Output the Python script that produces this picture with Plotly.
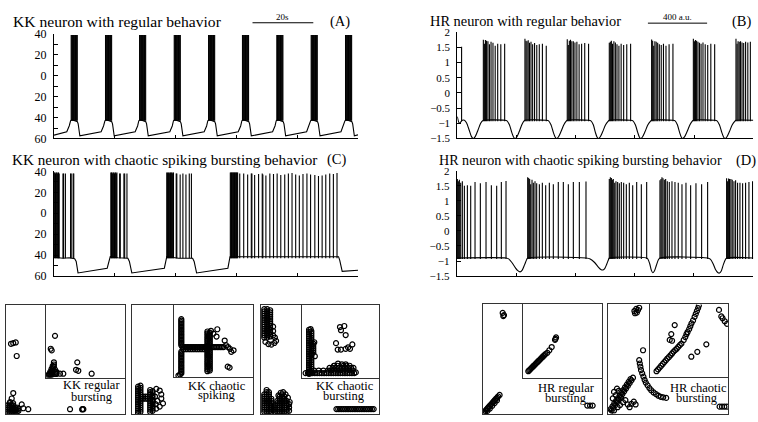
import plotly.graph_objects as go

FONT = "Liberation Serif"
W, H = 758, 422

# ===================== (A) KK neuron, regular bursting =====================
kk_reg_base_t = [0, 4.2, 5.0, 5.45, 5.9, 6.8, 7.7, 7.95, 8.5,
                 15.5, 16.3, 16.75, 17.2, 18.1, 19.0, 19.25, 19.8,
                 26.7, 27.5, 27.9, 28.4, 29.3, 30.2, 30.45, 31.0,
                 38.1, 38.9, 39.3, 39.8, 40.7, 41.6, 41.85, 42.4,
                 49.4, 50.2, 50.6, 51.1, 52.0, 52.9, 53.15, 53.7,
                 60.6, 61.4, 61.8, 62.3, 63.2, 64.1, 64.35, 64.9,
                 71.9, 72.7, 73.1, 73.6, 74.5, 75.4, 75.65, 76.2,
                 83.1, 83.9, 84.4, 84.9, 85.8, 86.7, 86.95, 87.5,
                 94.4, 95.2, 95.7, 96.2, 97.1, 98.0, 98.25, 98.8, 100]
kk_reg_base_v = [-56.8, -53.5, -48, -43, -42, -43, -44, -46, -57.5,
                 -53.5, -48, -43, -42, -43, -44, -46, -57.5,
                 -53.5, -48, -43, -42, -43, -44, -46, -57.5,
                 -53.5, -48, -43, -42, -43, -44, -46, -57.5,
                 -53.5, -48, -43, -42, -43, -44, -46, -57.5,
                 -53.5, -48, -43, -42, -43, -44, -46, -57.5,
                 -53.5, -48, -43, -42, -43, -44, -46, -57.5,
                 -53.5, -48, -43, -42, -43, -44, -46, -57.5,
                 -53.5, -48, -43, -42, -43, -44, -46, -57.5, -56.5]
kk_reg_spike_t = [
    [5.65, 5.85, 6.05, 6.25, 6.45, 6.65, 6.85, 7.05, 7.25, 7.45, 7.65],
    [16.95, 17.15, 17.35, 17.55, 17.75, 17.95, 18.15, 18.35, 18.55, 18.75, 18.95],
    [28.15, 28.35, 28.55, 28.75, 28.95, 29.15, 29.35, 29.55, 29.75, 29.95, 30.15],
    [39.55, 39.75, 39.95, 40.15, 40.35, 40.55, 40.75, 40.95, 41.15, 41.35, 41.55],
    [50.85, 51.05, 51.25, 51.45, 51.65, 51.85, 52.05, 52.25, 52.45, 52.65, 52.85],
    [62.0, 62.2, 62.4, 62.6, 62.8, 63.0, 63.2, 63.4, 63.6, 63.8, 64.0],
    [73.3, 73.5, 73.7, 73.9, 74.1, 74.3, 74.5, 74.7, 74.9, 75.1, 75.3],
    [84.6, 84.8, 85.0, 85.2, 85.4, 85.6, 85.8, 86.0, 86.2, 86.4, 86.6],
    [95.9, 96.1, 96.3, 96.5, 96.7, 96.9, 97.1, 97.3, 97.5, 97.7, 97.9],
]
kk_reg_spike_peak = 39
kk_spike_floor = -43

# ===================== (C) KK neuron, chaotic spiking bursting =====================
kk_chaos_base_t = [0, 1.0, 3.0, 5.0, 6.8, 7.3, 7.9,
                   17.5, 18.0, 18.5, 21.0, 24.3, 24.8, 25.6,
                   36.3, 36.7, 37.1, 41.0, 45.6, 46.1, 46.9,
                   57.2, 57.5, 57.9, 70.0, 85.0, 93.6, 94.0, 94.8, 100]
kk_chaos_base_v = [-42, -42.5, -43, -42.5, -43.5, -46, -57,
                   -52.5, -47, -41.5, -42.5, -43, -46, -57,
                   -52.5, -47, -41.5, -43, -43, -46, -57,
                   -52.5, -47, -41.5, -41.5, -41.5, -41.5, -45, -55.5, -54.5]
kk_chaos_spike_t = [
    [0.1, 0.3, 0.5, 0.7, 0.9, 1.1, 1.3, 1.5, 1.7, 2.95, 3.15, 3.75, 5.45, 5.65, 6.3, 6.5],
    [18.7, 18.9, 19.1, 19.3, 19.5, 19.7, 19.9, 20.1, 20.3, 20.5, 20.7, 21.6, 21.8, 23.0, 23.25, 24.0],
    [37.1, 37.3, 37.5, 37.7, 37.9, 38.1, 38.3, 38.5, 38.7, 38.9, 39.1, 39.3, 40.2, 40.4, 41.5, 42.4,
     43.4, 44.5, 45.2],
    [58.0, 58.2, 58.4, 58.6, 58.8, 59.0, 59.2, 59.4, 59.6, 59.8, 60.0, 60.2, 60.4,
     61.1, 62.4, 63.7, 64.9, 65.1, 66.0, 67.3, 68.5, 68.7, 69.7, 71.0, 72.2, 73.4, 74.6, 75.9,
     77.1, 78.3, 79.5, 80.7, 81.9, 83.2, 84.4, 85.8, 87.0, 88.2, 89.4, 90.7, 91.9, 93.1],
]
kk_chaos_spike_peak = [
    [39, 39, 38, 39, 39, 38, 39, 39, 38, 38, 38, 38, 38, 38, 38, 38],
    [39, 39, 39, 38, 39, 39, 38, 39, 39, 38, 39, 38, 38, 38, 38, 38],
    [39, 39, 38, 39, 39, 38, 39, 39, 39, 38, 39, 39, 38, 38, 37, 38, 37, 38, 38],
    [39, 39, 39, 39, 39, 39, 39, 39, 39, 39, 39, 39, 39,
     38, 38, 37, 38, 38, 36.5, 37.5, 38, 37, 36, 38, 37.5, 38, 36.5, 37,
     38, 38.5, 37, 36, 37.5, 38, 37, 36.5, 35.5, 36, 37, 38, 37.5, 38.5],
]

# ===================== (B) HR neuron, regular bursting =====================
hr_reg_base_t = [0, 14, 24, 34, 48, 62, 80, 95, 108, 122, 140, 158, 170, 176,
                 320, 336, 352, 368, 380, 390, 402, 418, 436, 450, 457,
                 601, 617, 633, 649, 661, 671, 683, 700, 720, 736, 743,
                 887, 903, 919, 933, 944, 953, 965, 982, 1002, 1020, 1027,
                 1171, 1187, 1203, 1219, 1230, 1239, 1251, 1268, 1288, 1306, 1313,
                 1457, 1472, 1487, 1502, 1513, 1522, 1535, 1552, 1572, 1588, 1595,
                 1739, 1755, 1771, 1787, 1799, 1809, 1821, 1838, 1858, 1876, 1883, 2000]
hr_reg_base_v = [-0.78, -1.0, -0.95, -0.9, -0.9, -0.98, -1.22, -1.43, -1.5, -1.43, -1.22, -1.0, -0.92, -0.9,
                 -0.9, -0.92, -1.05, -1.3, -1.45, -1.5, -1.45, -1.28, -1.05, -0.93, -0.9,
                 -0.9, -0.92, -1.05, -1.3, -1.45, -1.5, -1.45, -1.28, -1.05, -0.93, -0.9,
                 -0.9, -0.92, -1.05, -1.3, -1.45, -1.5, -1.45, -1.28, -1.05, -0.93, -0.9,
                 -0.9, -0.92, -1.05, -1.3, -1.45, -1.5, -1.45, -1.28, -1.05, -0.93, -0.9,
                 -0.9, -0.92, -1.05, -1.3, -1.45, -1.5, -1.45, -1.28, -1.05, -0.93, -0.9,
                 -0.9, -0.92, -1.05, -1.3, -1.45, -1.5, -1.45, -1.28, -1.05, -0.93, -0.9, -0.9]
hr_reg_spike_t = [
    [29],
    [176, 183, 190, 198, 207, 217, 228, 241, 256, 273, 294, 320],
    [457, 464, 471, 479, 488, 498, 509, 522, 537, 554, 575, 601],
    [743, 750, 757, 765, 774, 784, 795, 808, 823, 840, 861, 887],
    [1027, 1034, 1041, 1049, 1058, 1068, 1079, 1092, 1107, 1124, 1145, 1171],
    [1313, 1320, 1327, 1335, 1344, 1354, 1365, 1378, 1393, 1410, 1431, 1457],
    [1595, 1602, 1609, 1617, 1626, 1636, 1647, 1660, 1675, 1692, 1713, 1739],
    [1883, 1890, 1897, 1905, 1914, 1924, 1935, 1948, 1963, 1980],
]
hr_reg_spike_peak = [
    [1.52],
    [1.75, 1.62, 1.74, 1.72, 1.7, 1.6, 1.68, 1.65, 1.55, 1.62, 1.6, 1.62],
    [1.78, 1.72, 1.7, 1.73, 1.65, 1.68, 1.6, 1.64, 1.58, 1.6, 1.62, 1.55],
    [1.77, 1.58, 1.72, 1.75, 1.7, 1.7, 1.66, 1.68, 1.6, 1.62, 1.64, 1.62],
    [1.65, 1.68, 1.72, 1.62, 1.7, 1.66, 1.6, 1.55, 1.62, 1.58, 1.6, 1.62],
    [1.76, 1.72, 1.55, 1.7, 1.68, 1.65, 1.6, 1.58, 1.62, 1.55, 1.6, 1.62],
    [1.78, 1.7, 1.74, 1.72, 1.68, 1.65, 1.62, 1.66, 1.6, 1.58, 1.62, 1.6],
    [1.78, 1.62, 1.7, 1.68, 1.7, 1.66, 1.64, 1.68, 1.66, 1.68],
]
hr_spike_floor = -0.93

# ===================== (D) HR neuron, chaotic spiking bursting =====================
hr_chaos_base_t = [0, 333, 350, 372, 395, 412, 427, 442, 458, 472, 479,
                   872, 900, 930, 955, 972, 984, 998, 1012, 1024, 1029,
                   1281, 1290, 1302, 1312, 1322, 1333, 1346, 1360, 1370,
                   1692, 1710, 1728, 1745, 1760, 1772, 1785, 1798, 1812, 1820, 2000]
hr_chaos_base_v = [-0.9, -0.9, -0.93, -1.05, -1.22, -1.32, -1.36, -1.3, -1.12, -0.95, -0.9,
                   -0.9, -0.93, -1.05, -1.2, -1.28, -1.3, -1.25, -1.1, -0.95, -0.9,
                   -0.9, -0.94, -1.1, -1.3, -1.39, -1.33, -1.15, -0.96, -0.9,
                   -0.9, -0.94, -1.08, -1.28, -1.38, -1.4, -1.32, -1.12, -0.95, -0.9, -0.9]
hr_chaos_spike_t = [
    [4.5, 11.2, 18, 27, 38, 51.7, 72, 94.4, 123.6, 159.5, 197.7, 233.7, 269.6, 301, 332.6],
    [478.6, 485.4, 492, 498.9, 507.9, 516.8, 528, 539.3, 557.3, 577.5, 600, 624.7, 651.6, 685,
     719, 752.7, 786.5, 827, 871.8],
    [1029, 1036, 1043, 1049.6, 1056, 1065.5, 1074, 1085.3, 1096.6, 1110, 1125.8, 1143.8, 1164,
     1186.7, 1213.6, 1245, 1281],
    [1370.6, 1377.4, 1384, 1391, 1400, 1409, 1420, 1433.6, 1451.6, 1471.8, 1494, 1519, 1546,
     1577.4, 1613.3, 1651.5, 1692],
    [1820, 1826.8, 1833.6, 1840, 1849, 1858, 1869.5, 1880.7, 1894, 1910, 1928, 1948, 1970.6, 1995],
]
hr_chaos_spike_peak = [
    [1.72, 1.65, 1.7, 1.6, 1.65, 1.5, 1.52, 1.5, 1.62, 1.58, 1.62, 1.52, 1.5, 1.62, 1.66],
    [1.78, 1.76, 1.72, 1.55, 1.7, 1.6, 1.65, 1.58, 1.55, 1.6, 1.52, 1.6, 1.55, 1.62, 1.62, 1.55,
     1.62, 1.62, 1.64],
    [1.72, 1.78, 1.76, 1.7, 1.72, 1.6, 1.65, 1.62, 1.58, 1.62, 1.6, 1.55, 1.6, 1.52, 1.62, 1.55, 1.62],
    [1.68, 1.72, 1.78, 1.75, 1.7, 1.72, 1.65, 1.62, 1.65, 1.62, 1.6, 1.55, 1.6, 1.52, 1.58, 1.55, 1.62],
    [1.75, 1.65, 1.74, 1.72, 1.72, 1.7, 1.65, 1.68, 1.6, 1.6, 1.58, 1.6, 1.62, 1.65],
]

# tick labels / scale bars
kk_ytick_vals = [40, 30, 20, 10, 0, -10, -20, -30, -40, -50, -60]
kk_ytick_text = ["40", "", "20", "", "0", "", "20", "", "40", "", "60"]
kk_xtick_vals = [20, 40, 60, 80, 100]
hr_ytick_vals = [2, 1.5, 1, 0.5, 0, -0.5, -1, -1.5]
hr_xtick_vals = [400, 800, 1200, 1600, 2000]
kk_scalebar = [65.3, 85.3]
hr_scalebar = [1288, 1688]

# ===================== return-map panels (relative units 0-100) =====================
# isolated circles (x, y lists), dense clusters as columns (x, [ys]) and rows (y, [xs])
p1_main_x = [4.2, 6.1, 8.2, 9.0, 6.1, 4.8, 13.2, 14.5, 18.7, 53.8, 64.0, 64.4, 65.0, 3.5]
p1_main_y = [64.3, 64.9, 65.5, 53.1, 19.2, 14.2, 8.8, 5.3, 4.4, 4.4, 4.2, 4.6, 4.4, 11.0]
p1_main_cols = [(1.5, [2, 4, 6, 8]), (3, [2, 4, 6, 8, 10]), (4.5, [2, 4, 6, 8]), (6, [2, 4, 6, 8, 10]),
                (7.5, [2, 4, 6]), (9, [2, 4, 6]), (10.5, [3, 5])]
p1_main_rows = []
p1_in_x = [11.4, 6.0, 7.2, 39.6, 38.0, 40.9, 57.8, 17.7, 21.9, 13.5]
p1_in_y = [57.3, 39.6, 37.3, 20.9, 10.7, 9.3, 5.3, 5.3, 5.3, 6.3]
p1_in_cols = [(10, [21, 18, 15]), (8.5, [16, 13, 10, 7]), (7, [12, 9, 6, 3.5]), (5.5, [8, 5, 3]),
              (4, [5, 3]), (2.5, [3]), (11.5, [11, 8, 5]), (13, [5, 8])]
p1_in_rows = []

p2_main_x = [20.1, 22.9, 24.2, 24.2, 25.6, 22.9, 21, 20, 19, 19.5]
p2_main_y = [23, 21.5, 18, 14.2, 9.7, 6.8, 12, 5, 16, 9]
p2_main_cols = [(5, [1, 3, 5, 7, 9, 11, 13, 15, 17, 19, 21, 23, 25]),
                (7, [2, 4, 6, 8, 10, 12, 14, 16, 18, 20, 22, 24, 26]),
                (9, [14, 16]), (11, [14, 16]), (13, [14, 16]),
                (15, [2, 4, 6, 8, 10, 12, 14, 16, 18, 20, 22]),
                (17, [3, 5, 7, 9, 11, 13, 15, 17, 19, 21])]
p2_main_rows = []
p2_in_x = [64.3, 66, 68.5, 71, 72.6, 75.5, 47, 50, 54, 55, 68.1, 70.5, 8, 6]
p2_in_y = [50.5, 44, 41.5, 39, 34.8, 37, 64, 60, 56, 66.1, 14.3, 13, 3.5, 2]
p2_in_cols = [(9.6, [80, 78, 76, 74, 72, 70, 68, 66, 64, 62, 60, 58, 56, 54, 52, 50, 48, 46, 44]),
              (9.6, [35, 33, 31, 29, 27, 25, 23, 21, 19, 17, 15, 13, 11, 9, 7, 5]),
              (42.5, [8, 10.5, 13, 15.5, 18, 20.5, 23, 25.5, 28, 30.5, 33, 35.5, 38, 40.5, 43, 45.5,
                      48, 50.5, 53, 55.5, 58, 60.5, 63]),
              (45.5, [9, 11.5, 14, 16.5, 19, 21.5, 24, 26.5, 29, 31.5, 34, 36.5, 39, 41.5, 44, 46.5,
                      49, 51.5, 54, 56.5, 59, 61.5])]
p2_in_rows = [(41.5, [11, 13, 15, 17, 19, 21, 23, 25, 27, 29, 31, 33, 35, 37, 39, 41, 49, 51, 53, 55,
                      57, 59, 61, 63]),
              (38.5, [12, 15, 18, 21, 24, 27, 30, 33, 36, 39])]

p3_main_x = [4, 6.5, 9, 11.5, 13, 12, 15, 17, 19, 21, 23, 24.5]
p3_main_y = [66, 64, 63.5, 65, 67, 70, 17, 19.5, 20, 18, 15, 11]
p3_main_cols = [(3, [70, 72, 74, 76, 78, 80, 82, 84, 86, 88, 90, 92, 94, 96]),
                (5.5, [70, 72, 74, 76, 78, 80, 82, 84, 86, 88, 90, 92, 94, 96]),
                (8, [71, 73, 75, 77, 79, 81, 83, 85, 87, 89, 91, 93, 95]),
                (10.5, [72, 76, 80]),
                (3, [2, 4, 6, 8, 10, 12, 14, 16, 18]),
                (5, [2, 4, 6, 8, 10, 12, 14, 16, 18, 20, 22]),
                (7, [2, 4, 6, 8, 10, 12, 14, 16, 18, 20]),
                (9, [2, 4, 6, 8, 10, 12, 14]),
                (12, [2, 4, 6, 8]),
                (14, [2, 4, 6, 8, 10, 12]),
                (16, [2, 4, 6, 8, 10, 12, 14, 16]),
                (18, [2, 4, 6, 8, 10, 12, 14, 16, 18]),
                (20, [2, 4, 6, 8, 10, 12, 14, 16]),
                (22, [2, 4, 6, 8, 10, 12]),
                (24, [3, 6, 9])]
p3_main_rows = [(4.5, [64, 65.5, 67, 68.5, 70, 71.5, 73, 74.5, 76, 77.5, 79, 80.5, 82, 83.5, 85, 86.5,
                       88, 89.5, 91, 92.5, 94, 95.5])]
p3_in_x = [11.5, 16.3, 17, 49.5, 55.1, 50.8, 56.9, 44.4, 46.6, 50.8, 56.9, 62.5, 65.5, 60, 42, 52, 57, 47, 70]
p3_in_y = [67, 49, 30, 69.7, 71.1, 65.4, 58.8, 47.8, 39, 39, 40, 40, 46, 42, 17, 19, 19, 20, 8]
p3_in_cols = [(9.5, [6, 9, 12, 15, 18, 21, 24, 27, 30, 33, 36, 39, 42, 45, 48, 51, 54, 57, 60, 63, 66]),
              (12.5, [7, 10, 13, 16, 19, 22, 25, 28, 31, 34, 37, 40, 43, 46, 49, 52, 55, 58, 61, 64]),
              (15, [35, 38, 41, 44, 47])]
p3_in_rows = [(7, [5, 8, 11, 14, 17, 20, 23, 26, 29, 32, 35, 38, 41, 44, 47, 50, 53, 56, 59, 62, 65, 68]),
              (10.5, [16, 22, 28, 34, 38, 42, 46, 50, 54, 58, 62, 66]),
              (14, [36, 40, 44, 48, 52, 56, 60, 64, 67]),
              (17, [42, 46, 54, 58, 62])]

p4_main_x = [16.8, 17.9, 17.3,
             0.5, 1.3, 2.2, 3.1, 4.0, 4.9, 5.8, 6.7, 7.6, 8.5, 9.4, 10.3, 11.2, 12.1, 13.0, 14.2,
             2.0, 4.0, 6.0, 8.0, 10.0, 12.0,
             87.9, 90.2, 92.4]
p4_main_y = [92.3, 90.3, 89.4,
             0.8, 1.8, 2.9, 4.0, 5.1, 6.2, 7.3, 8.4, 9.5, 10.6, 11.7, 12.8, 13.9, 15.0, 16.0, 17.4,
             1.0, 3.0, 5.0, 7.5, 10.0, 12.5,
             7.7, 7.7, 7.7]
p4_main_cols = []
p4_main_rows = []
p4_in_x = [7.1, 8.3, 9.5, 10.7, 11.9, 13.1, 14.3, 15.5, 16.7, 17.9, 19.1, 20.3, 21.5, 22.7, 23.9,
           25.1, 26.3, 27.5, 28.7, 31.1, 33.7, 36.7, 40.9, 42.2, 41.5]
p4_in_y = [8.7, 10.0, 11.3, 12.6, 13.9, 15.2, 16.5, 17.8, 19.1, 20.4, 21.7, 23.0, 24.3, 25.6, 26.9,
           28.2, 29.5, 30.8, 32.1, 33.9, 37.4, 41.8, 51.6, 55.0, 53.0]
p4_in_cols = []
p4_in_rows = []

p5_main_x = [22, 23.5, 25, 24, 22.5, 26, 29.2,
             3, 4.5, 6, 7.5, 9, 10.5, 12, 13.5, 15, 16.5, 18, 19.5, 20.8, 1.5, 5, 8,
             2.2, 3.7, 5.2, 6.7, 8.2, 9.7, 11.2, 12.7, 14.2, 15.7, 17.2, 18.7,
             5, 6.5, 7.5, 9, 11, 12.5, 14.5, 16.5, 18, 19.5, 21.5, 23, 4, 10,
             26, 26.5, 27, 27.5, 28.5, 29.5, 30.5, 31.5, 33, 34.5, 36, 38, 40, 42, 44, 46, 48.5,
             93, 95, 97, 99]
p5_main_y = [94, 96, 95, 92.5, 92, 97, 58.1,
             3, 5.5, 8, 10.5, 13, 15.5, 18, 20.5, 23, 25.5, 28, 30.5, 33, 1, 3, 6,
             4.2, 6.7, 9.2, 11.7, 14.2, 16.7, 19.2, 21.7, 24.2, 26.7, 29.2, 31.7,
             20, 17, 23, 21, 14.5, 10.5, 12.5, 8.5, 6, 9, 11, 8.5, 14, 8,
             49, 46, 43, 40, 37, 34, 31, 28.5, 26, 23.5, 21.5, 19.5, 18, 16.5, 15.5, 15, 14.5,
             6.5, 6.5, 6.5, 6.5]
p5_main_cols = []
p5_main_rows = []
p5_in_x = [8, 10, 12, 14, 16, 18, 20, 22, 24, 26, 28, 30, 32, 34, 36, 38, 40,
           43, 45, 46.5, 48, 50, 51.5, 53, 55, 57, 58.5, 60, 61.5, 62.5,
           88.4, 91.4, 93, 95.8, 98.7,
           31.4, 27, 25, 28, 52.8, 60.5, 72.1]
p5_in_y = [8, 10.5, 13, 15.5, 18, 20.5, 23, 25.5, 27.5, 30, 32.5, 35, 37, 39, 41.5, 44, 46,
           51, 55, 59, 62, 66, 70, 74, 78, 83, 87, 91, 95, 98.5,
           92.5, 83.6, 81, 76.9, 73.3,
           71.6, 59.2, 51.2, 50, 28, 34.7, 45]
p5_in_cols = []
p5_in_rows = []

panel_labels = [("KK regular", "bursting"), ("KK chaotic", "spiking"), ("KK chaotic", "bursting"),
                ("HR regular", "bursting"), ("HR chaotic", "bursting")]

# ===================== figure =====================
fig = go.Figure()


def flat(nested):
    out = []
    for row in nested:
        out.extend(row)
    return out


def spike_xy(times, peaks, floor):
    xs, ys = [], []
    for t, p in zip(times, peaks):
        xs += [t, t, None]
        ys += [floor, p, None]
    return xs, ys


def gather(px, py, cols, rows):
    xs, ys = list(px), list(py)
    for x, yl in cols:
        for y in yl:
            xs.append(x)
            ys.append(y)
    for y, xl in rows:
        for x in xl:
            xs.append(x)
            ys.append(y)
    return xs, ys


LINE = dict(color="black", width=1.1)
HR_BASE = dict(color="black", width=1.1, shape="spline", smoothing=0.8)
HR_SPIKE = dict(color="black", width=1.1)

# (A)
fig.add_trace(go.Scatter(x=kk_reg_base_t, y=kk_reg_base_v, mode="lines", line=LINE, xaxis="x", yaxis="y"))
a_t = flat(kk_reg_spike_t)
sx, sy = spike_xy(a_t, [kk_reg_spike_peak] * len(a_t), kk_spike_floor)
fig.add_trace(go.Scatter(x=sx, y=sy, mode="lines", line=LINE, xaxis="x", yaxis="y"))
# (B)
fig.add_trace(go.Scatter(x=hr_reg_base_t, y=hr_reg_base_v, mode="lines", line=HR_BASE, xaxis="x2", yaxis="y2"))
sx, sy = spike_xy(flat(hr_reg_spike_t), flat(hr_reg_spike_peak), hr_spike_floor)
fig.add_trace(go.Scatter(x=sx, y=sy, mode="lines", line=HR_SPIKE, xaxis="x2", yaxis="y2"))
# (C)
fig.add_trace(go.Scatter(x=kk_chaos_base_t, y=kk_chaos_base_v, mode="lines", line=LINE, xaxis="x3", yaxis="y3"))
sx, sy = spike_xy(flat(kk_chaos_spike_t), flat(kk_chaos_spike_peak), kk_spike_floor)
fig.add_trace(go.Scatter(x=sx, y=sy, mode="lines", line=LINE, xaxis="x3", yaxis="y3"))
# (D)
fig.add_trace(go.Scatter(x=hr_chaos_base_t, y=hr_chaos_base_v, mode="lines", line=HR_BASE, xaxis="x4", yaxis="y4"))
sx, sy = spike_xy(flat(hr_chaos_spike_t), flat(hr_chaos_spike_peak), hr_spike_floor)
fig.add_trace(go.Scatter(x=sx, y=sy, mode="lines", line=HR_SPIKE, xaxis="x4", yaxis="y4"))


def dx(a, b):
    return [a / W, b / W]


def dy(top, bottom):
    return [1 - bottom / H, 1 - top / H]


tick_font_kk = dict(family=FONT, size=12, color="black")
tick_font_hr = dict(family=FONT, size=11, color="black")


def ts_xaxis(dom, rng, tv, anchor):
    return dict(domain=dom, range=rng, anchor=anchor, showline=True, linecolor="black", linewidth=1,
                ticks="inside", ticklen=3, tickcolor="black", tickvals=tv, showticklabels=False,
                showgrid=False, zeroline=False, fixedrange=True)


def ts_yaxis(dom, rng, tv, tt, anchor, font):
    d = dict(domain=dom, range=rng, anchor=anchor, showline=True, linecolor="black", linewidth=1,
             ticks="inside", ticklen=4, tickcolor="black", tickmode="array", tickvals=tv,
             tickfont=font, showgrid=False, zeroline=False, fixedrange=True, ticklabelstandoff=4)
    if tt is not None:
        d["ticktext"] = tt
    return d


layout = dict(width=W, height=H, margin=dict(l=0, r=0, t=0, b=0, pad=0), paper_bgcolor="white",
              plot_bgcolor="white", showlegend=False, autosize=False)

layout["xaxis"] = ts_xaxis(dx(54, 358), [0, 100], kk_xtick_vals, "y")
layout["yaxis"] = ts_yaxis(dy(28, 136), [-60, 40], kk_ytick_vals, kk_ytick_text, "x", tick_font_kk)
layout["xaxis2"] = ts_xaxis(dx(457.3, 753.3), [0, 2000], hr_xtick_vals, "y2")
layout["yaxis2"] = ts_yaxis(dy(26, 136), [-1.5, 2], hr_ytick_vals, None, "x2", tick_font_hr)
layout["xaxis3"] = ts_xaxis(dx(54, 358), [0, 100], kk_xtick_vals, "y3")
layout["yaxis3"] = ts_yaxis(dy(170, 278.3), [-60, 40], kk_ytick_vals, kk_ytick_text, "x3", tick_font_kk)
layout["xaxis4"] = ts_xaxis(dx(456.7, 753.3), [0, 2000], hr_xtick_vals, "y4")
layout["yaxis4"] = ts_yaxis(dy(169.3, 278.3), [-1.5, 2], hr_ytick_vals, None, "x4", tick_font_hr)

# return-map boxes: (main L, R, T, B, inset L, inset B) in pixels
boxes = [(6, 125, 308, 421, 46, 383.3),
         (132, 253, 308, 421, 173.7, 382.7),
         (260.7, 379, 308, 421, 301.7, 384),
         (482.7, 601.7, 307.7, 421, 522.7, 383.3),
         (608, 728, 307.7, 420.7, 650.3, 382.7)]
map_data = [
    (gather(p1_main_x, p1_main_y, p1_main_cols, p1_main_rows), gather(p1_in_x, p1_in_y, p1_in_cols, p1_in_rows)),
    (gather(p2_main_x, p2_main_y, p2_main_cols, p2_main_rows), gather(p2_in_x, p2_in_y, p2_in_cols, p2_in_rows)),
    (gather(p3_main_x, p3_main_y, p3_main_cols, p3_main_rows), gather(p3_in_x, p3_in_y, p3_in_cols, p3_in_rows)),
    (gather(p4_main_x, p4_main_y, p4_main_cols, p4_main_rows), gather(p4_in_x, p4_in_y, p4_in_cols, p4_in_rows)),
    (gather(p5_main_x, p5_main_y, p5_main_cols, p5_main_rows), gather(p5_in_x, p5_in_y, p5_in_cols, p5_in_rows)),
]
label_pos = [((91.7, 391), (91.7, 403.3)),
             ((217.2, 392.3), (217, 401.7)),
             ((345.3, 392.3), (343.7, 402.7)),
             ((566.7, 394), (565.8, 404)),
             ((698.3, 394.3), (697, 404.3))]


def box_axis(dom, anchor):
    return dict(domain=dom, range=[0, 100], anchor=anchor, showline=True, mirror=True,
                linecolor="#333333", linewidth=1, ticks="", showticklabels=False,
                showgrid=False, zeroline=False, fixedrange=True)


MARK = dict(symbol="circle-open", size=5, color="black", line=dict(width=1.2, color="black"))
annotations = []
for k, ((L, R, T, B, iL, iB), ((mx, my), (ix, iy))) in enumerate(zip(boxes, map_data)):
    n_main = 5 + 2 * k
    n_in = n_main + 1
    layout[f"xaxis{n_main}"] = box_axis(dx(L, R), f"y{n_main}")
    layout[f"yaxis{n_main}"] = box_axis(dy(T, B), f"x{n_main}")
    layout[f"xaxis{n_in}"] = box_axis(dx(iL, R), f"y{n_in}")
    layout[f"yaxis{n_in}"] = box_axis(dy(T, iB), f"x{n_in}")
    fig.add_trace(go.Scatter(x=mx, y=my, mode="markers", marker=MARK, xaxis=f"x{n_main}", yaxis=f"y{n_main}"))
    fig.add_trace(go.Scatter(x=ix, y=iy, mode="markers", marker=MARK, xaxis=f"x{n_in}", yaxis=f"y{n_in}"))
    (l1, l2) = panel_labels[k]
    (q1, q2) = label_pos[k]
    for txt, (xp, yp) in ((l1, q1), (l2, q2)):
        annotations.append(dict(text=txt, x=xp / W, y=1 - yp / H, xref="paper", yref="paper",
                                showarrow=False, xanchor="center", yanchor="middle",
                                font=dict(family=FONT, size=12.5, color="black")))


def ann(text, xp, yp, size, xanchor="center"):
    return dict(text=text, x=xp / W, y=1 - yp / H, xref="paper", yref="paper", showarrow=False,
                xanchor=xanchor, yanchor="middle", font=dict(family=FONT, size=size, color="black"))


annotations += [
    ann("KK neuron with regular behavior", 11, 14.5, 15.6, "left"),
    ann("(A)", 340, 14.5, 14.5),
    ann("HR neuron with regular behavior", 427.5, 14.5, 14.4, "left"),
    ann("(B)", 741.5, 14.5, 14.5),
    ann("KK neuron with chaotic spiking bursting behavior", 10, 158, 15.2, "left"),
    ann("(C)", 336.5, 158, 14.5),
    ann("HR neuron with chaotic spiking bursting behavior", 436.5, 158.5, 14.1, "left"),
    ann("(D)", 745.5, 158.5, 14.5),
]
annotations.append(dict(text="20s", x=sum(kk_scalebar) / 2, y=1 - 10.5 / H, xref="x", yref="paper",
                        showarrow=False, yanchor="middle", font=dict(family=FONT, size=9, color="black")))
annotations.append(dict(text="400 a.u.", x=sum(hr_scalebar) / 2, y=1 - 10.5 / H, xref="x2", yref="paper",
                        showarrow=False, yanchor="middle", font=dict(family=FONT, size=9, color="black")))
shapes = [
    dict(type="line", xref="x", yref="paper", x0=kk_scalebar[0], x1=kk_scalebar[1],
         y0=1 - 16.3 / H, y1=1 - 16.3 / H, line=dict(color="black", width=1)),
    dict(type="line", xref="x2", yref="paper", x0=hr_scalebar[0], x1=hr_scalebar[1],
         y0=1 - 16.7 / H, y1=1 - 16.7 / H, line=dict(color="black", width=1)),
]
layout["annotations"] = annotations
layout["shapes"] = shapes

fig.update_layout(**layout)
fig.write_html("out.html", include_plotlyjs=True, config={"displayModeBar": False, "staticPlot": True},
               post_script="document.body.style.margin='0px';document.body.style.padding='0px';")
